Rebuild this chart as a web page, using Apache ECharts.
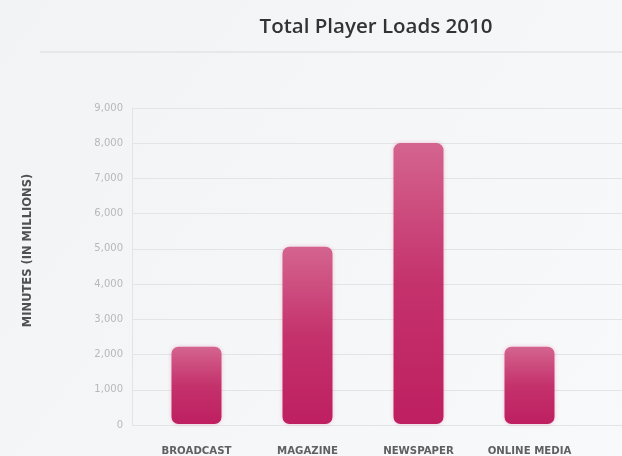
<!DOCTYPE html>
<html>
<head>
<meta charset="utf-8">
<script src="https://cdn.jsdelivr.net/npm/echarts@6/dist/echarts.min.js"></script>
<style>
  html, body { margin: 0; padding: 0; background: #f4f5f6; }
  #chart { width: 622px; height: 456px; }
</style>
</head>
<body>
<div id="chart"></div>
<script>
// Total Player Loads 2010 — minutes (in millions) by channel
const categories = ['BROADCAST', 'MAGAZINE', 'NEWSPAPER', 'ONLINE MEDIA']
const loads = [2200, 5050, 8000, 2200]
const yTicks = [0, 1000, 2000, 3000, 4000, 5000, 6000, 7000, 8000, 9000]

const yMin = yTicks[0]
const yMax = yTicks[yTicks.length - 1]
const yStep = yTicks[1] - yTicks[0]

const chart = echarts.init(document.getElementById('chart'))

chart.setOption({
  backgroundColor: new echarts.graphic.LinearGradient(0, 0, 1, 1, [
    { offset: 0, color: '#f2f3f5' },
    { offset: 1, color: '#f8f9fa' },
  ]),
  animation: false,
  title: {
    text: 'Total Player Loads 2010',
    left: 371,
    textAlign: 'center',
    top: 12,
    textStyle: { fontFamily: 'Open Sans', fontSize: 20.5, fontWeight: 600, color: '#333' },
  },
  graphic: [{
    type: 'line',
    shape: { x1: 40, y1: 52, x2: 622, y2: 52 },
    style: { stroke: '#e2e3e5', lineWidth: 1.5 },
  }],
  // grid 0 carries the axis + full-width gridlines, grid 1 the bars
  grid: [
    { left: 132, right: 0, top: 108, bottom: 31 },
    { left: 141, right: 37, top: 108, bottom: 31 },
  ],
  xAxis: [
    { type: 'value', gridIndex: 0, show: false, splitLine: { show: false } },
    {
      type: 'category',
      gridIndex: 1,
      data: categories,
      axisLine: { show: false },
      axisTick: { show: false },
      axisLabel: {
        interval: 0, hideOverlap: false,
        color: '#606060', fontSize: 10.2, fontWeight: 'bold', fontFamily: 'DejaVu Sans', margin: 22,
      },
    },
  ],
  yAxis: [
    {
      type: 'value',
      gridIndex: 0,
      min: yMin,
      max: yMax,
      interval: yStep,
      name: 'MINUTES (IN MILLIONS)',
      nameLocation: 'middle',
      nameGap: 98,
      nameTextStyle: {
        color: '#505050', fontSize: 11.5, fontWeight: 'bold', fontFamily: 'DejaVu Sans',
        padding: [0, 0, 0, 32],
      },
      axisLine: { show: true, lineStyle: { color: '#e3e4e6' } },
      axisTick: { show: false },
      axisLabel: {
        color: '#b8b8b8', fontSize: 10, fontFamily: 'DejaVu Sans', margin: 9,
        formatter: v => v.toLocaleString('en-US'),
      },
      splitLine: { lineStyle: { color: '#e3e4e6' } },
    },
    {
      type: 'value',
      gridIndex: 1,
      min: yMin,
      max: yMax,
      interval: yStep,
      show: false,
      splitLine: { show: false },
    },
  ],
  series: [{
    type: 'bar',
    xAxisIndex: 1,
    yAxisIndex: 1,
    data: loads,
    barWidth: 50,
    itemStyle: {
      borderRadius: 7,
      shadowColor: 'rgba(200,40,100,0.25)',
      shadowBlur: 4,
      color: new echarts.graphic.LinearGradient(0, 0, 0, 1, [
        { offset: 0, color: '#d4648f' },
        { offset: 0.5, color: '#c4326c' },
        { offset: 1, color: '#be1f60' },
      ]),
    },
  }],
})
</script>
</body>
</html>
